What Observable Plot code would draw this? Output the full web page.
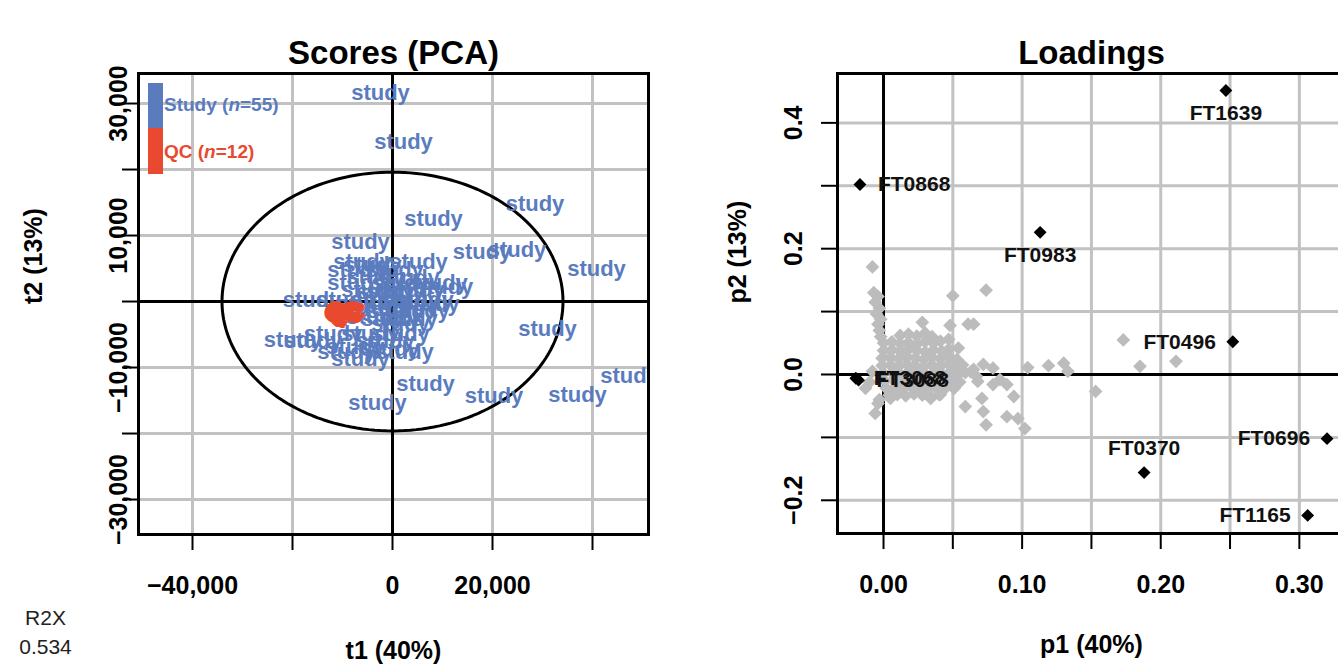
<!DOCTYPE html>
<html><head><meta charset="utf-8">
<script src="https://cdn.jsdelivr.net/npm/d3@7"></script>
<script src="https://cdn.jsdelivr.net/npm/@observablehq/plot@0.6"></script>
<style>
html,body{margin:0;padding:0;background:#fff;overflow:hidden}
#wrap{position:relative;width:1338px;height:664px;overflow:hidden;background:#fff}
#left,#right{position:absolute;top:0;height:664px}
#left{left:0;width:700px}
#right{left:700px;width:660px}
#left svg,#right svg{max-width:none !important}
svg text{font-family:"Liberation Sans",Arial,Helvetica,sans-serif}
.leg{position:absolute;font-family:"Liberation Sans",Arial,sans-serif;font-weight:bold;font-size:19px;line-height:1}
.bar{position:absolute;width:15px;height:46px}
</style></head><body>
<div id="wrap">
  <div id="left"></div>
  <div id="right"></div>
  <div class="bar" style="left:148px;top:83px;background:#5a7cbf"></div>
  <div class="bar" style="left:148px;top:128px;background:#e8492f"></div>
  <div class="leg" style="left:164px;top:95px;color:#5a7cbf">Study (<i>n</i>=55)</div>
  <div class="leg" style="left:164px;top:142px;color:#e8492f">QC (<i>n</i>=12)</div>
</div>
<script>
// ---------- Scores data ----------
const studyT1 = [-2400, 2200, 8200, 28500, -6400, 17900, 24900, 40800, 31000, 6600, 20300, 37000, -3000, 47400,
  -16100, -19900, 10300, 6400, -6000, 5200, -7200, 400, -7200, 1600, 9200, -9400, -2400, 3600, -2400, 3200,
  -400, 3200, -11900, -4400, 1600, -15900, -9200, 2400, -6400, -3400, -1400, 600, -4400, 4600, -5400, 600,
  5600, -3400, 1600, -1400, -7400, -400, 3600, -4000, 7600];
const studyT2 = [31600, 24200, 12500, 14800, 9100, 7500, 7800, 4900, -4200, -12500, -14300, -14200, -15400, -11300,
  300, -5800, 2200, 300, 6000, 6000, 4800, 4800, 2800, 2800, 2800, 300, 300, 300, -900, -900,
  -2700, -2700, -4900, -4900, -4900, -6000, -7600, -7600, -8700, 3700, 1500, 1500, 1800, 1800, -400, -1500,
  -1500, -2400, -3400, -6000, -6900, -7200, 3600, 5500, -400];
const qcT1 = [-10300, -9800, -9400, -9000, -10100, -9600, -8600, -9900, -9200, -10500, -8800, -9600];
const qcT2 = [-1500, -1800, -1300, -1900, -2100, -1600, -1500, -1200, -2200, -1800, -1800, -2100];
const hotellingT1 = 34100, hotellingT2 = 19600;
const scoreXTicks = [-40000, -20000, 0, 20000, 40000];
const scoreXLabels = ["\u221240,000", "", "0", "20,000", ""];
const scoreYTicks = [-30000, -20000, -10000, 0, 10000, 20000, 30000];
const scoreYLabels = ["\u221230,000", "", "\u221210,000", "", "10,000", "", "30,000"];
const r2xLabel = "R2X", r2xValue = "0.534";

// ---------- Loadings data ----------
const loadNames = ["FT1639", "FT0868", "FT0983", "FT0496", "FT0696", "FT0370", "FT1165", "FT3068", "FT3088"];
const loadP1 = [0.247, -0.017, 0.113, 0.252, 0.320, 0.188, 0.306, -0.020, -0.018];
const loadP2 = [0.4515, 0.302, 0.226, 0.052, -0.102, -0.156, -0.224, -0.006, -0.009];
const loadLabelSide = ["below", "right", "below", "left", "left", "above", "left", "right", "right"];
const greyLoadings = [
  [0.012,0.062],[0.018,0.064],[0.024,0.061],[0.030,0.066],[0.035,0.060],
  [0.000,0.050],[0.006,0.052],[0.012,0.049],[0.018,0.051],[0.024,0.048],[0.030,0.052],[0.036,0.050],[0.041,0.053],
  [0.000,0.038],[0.006,0.039],[0.012,0.037],[0.018,0.040],[0.024,0.038],[0.030,0.036],[0.036,0.039],[0.042,0.037],[0.047,0.040],
  [-0.001,0.026],[0.005,0.027],[0.011,0.025],[0.017,0.028],[0.023,0.026],[0.029,0.024],[0.035,0.027],[0.041,0.025],[0.047,0.028],[0.053,0.024],
  [-0.001,0.014],[0.005,0.015],[0.011,0.013],[0.017,0.016],[0.023,0.014],[0.029,0.012],[0.035,0.015],[0.041,0.013],[0.047,0.016],[0.053,0.012],[0.057,0.015],
  [0.000,0.002],[0.006,0.003],[0.012,0.001],[0.018,0.004],[0.024,0.002],[0.030,0.000],[0.036,0.003],[0.042,0.001],[0.048,0.004],[0.054,0.000],[0.059,0.003],
  [0.001,-0.010],[0.007,-0.009],[0.013,-0.011],[0.019,-0.008],[0.025,-0.010],[0.031,-0.012],[0.037,-0.009],[0.043,-0.011],[0.049,-0.008],[0.055,-0.012],
  [0.002,-0.022],[0.008,-0.021],[0.014,-0.023],[0.020,-0.020],[0.026,-0.022],[0.032,-0.024],[0.038,-0.021],[0.044,-0.023],[0.050,-0.020],
  [0.004,-0.033],[0.010,-0.032],[0.016,-0.034],[0.022,-0.031],[0.028,-0.033],[0.034,-0.035],[0.040,-0.032],
  [-0.002,0.060],[-0.003,0.070],[-0.004,0.080],[-0.002,0.088],[-0.005,0.096],[-0.003,0.105],[-0.006,0.115],[-0.004,0.124],[-0.007,0.130],[-0.008,0.171],
  [-0.003,-0.040],[-0.004,-0.046],[-0.006,-0.062],[0.005,-0.038],[-0.013,-0.022],[-0.010,-0.012],[-0.008,0.005],
  [0.074,0.134],[0.050,0.125],[0.028,0.083],[0.048,0.078],[0.061,0.080],[0.065,0.080],[0.047,0.056],[0.054,0.042],
  [0.072,0.016],[0.079,0.010],[0.104,0.011],[0.119,0.014],[0.130,0.018],[0.133,0.005],[0.153,-0.027],
  [0.063,0.004],[0.067,-0.003],[0.065,0.008],[0.068,-0.011],[0.079,-0.016],[0.084,-0.008],[0.089,-0.016],[0.094,-0.035],
  [0.071,-0.038],[0.059,-0.051],[0.072,-0.059],[0.074,-0.080],[0.089,-0.067],[0.097,-0.070],[0.102,-0.086],
  [0.041,-0.032],[0.034,-0.038],[0.051,-0.022],[0.173,0.055],[0.185,0.013],[0.211,0.021]
];
const loadXTicks = [0, 0.05, 0.10, 0.15, 0.20, 0.25, 0.30];
const loadXLabels = ["0.00", "", "0.10", "", "0.20", "", "0.30"];
const loadYTicks = [-0.2, -0.1, 0, 0.1, 0.2, 0.3, 0.4];
const loadYLabels = ["\u22120.2", "", "0.0", "", "0.2", "", "0.4"];

// ---------- styles ----------
const BLUE = "#5a7cbf", RED = "#e8492f", GRID = "#c2c2c2", GREYPT = "#bcbcbc";
const fmtFrom = (ticks, labels) => { const m = new Map(ticks.map((t, i) => [t, labels[i]])); return d => m.get(d) ?? ""; };

// ---------- Scores plot ----------
const studyIdx = d3.range(studyT1.length);
const qcIdx = d3.range(qcT1.length);
const ellipse = d3.range(0, 361, 2).map(a => ({x: hotellingT1 * Math.cos(a * Math.PI / 180), y: hotellingT2 * Math.sin(a * Math.PI / 180)}));

const left = Plot.plot({
  width: 700, height: 664,
  marginLeft: 138, marginRight: 52, marginTop: 73, marginBottom: 130,
  x: {domain: [-50800, 51200]},
  y: {domain: [-35300, 34550]},
  style: {fontFamily: "Liberation Sans, Arial, sans-serif", background: "white"},
  marks: [
    Plot.ruleX(scoreXTicks.filter(d => d !== 0), {stroke: GRID, strokeWidth: 3}),
    Plot.ruleY(scoreYTicks.filter(d => d !== 0), {stroke: GRID, strokeWidth: 3}),
    Plot.ruleX([0], {stroke: "black", strokeWidth: 3}),
    Plot.ruleY([0], {stroke: "black", strokeWidth: 3}),
    Plot.line(ellipse, {x: "x", y: "y", stroke: "black", strokeWidth: 3}),
    Plot.text(studyIdx, {x: i => studyT1[i], y: i => studyT2[i], text: () => "study", fill: BLUE, fontSize: 22, fontWeight: "bold", clip: "frame"}),
    Plot.text(qcIdx, {x: i => qcT1[i], y: i => qcT2[i], text: () => "QC", fill: RED, fontSize: 22, fontWeight: "bold"}),
    Plot.frame({stroke: "black", strokeWidth: 3}),
    Plot.axisX(scoreXTicks, {tickSize: 16, tickPadding: 26, strokeWidth: 2, tickFormat: fmtFrom(scoreXTicks, scoreXLabels), fontSize: 25, fontWeight: "bold", label: null}),
    Plot.axisY(scoreYTicks, {tickSize: 16, tickPadding: -4, tickRotate: -90, strokeWidth: 2, tickFormat: fmtFrom(scoreYTicks, scoreYLabels), fontSize: 25, fontWeight: "bold", label: null}),
    Plot.text(["Scores (PCA)"], {frameAnchor: "top", dy: -33, fontSize: 33, fontWeight: "bold", fill: "black"}),
    Plot.text(["t1 (40%)"], {frameAnchor: "bottom", dy: 124, fontSize: 25, fontWeight: "bold", fill: "black"}),
    Plot.text(["t2 (13%)"], {frameAnchor: "left", dx: -105, rotate: -90, fontSize: 25, fontWeight: "bold", fill: "black"}),
    Plot.text([r2xLabel], {frameAnchor: "bottom-left", dx: -93, dy: 90, textAnchor: "middle", fontSize: 21, fill: "#222"}),
    Plot.text([r2xValue], {frameAnchor: "bottom-left", dx: -93, dy: 119, textAnchor: "middle", fontSize: 21, fill: "#222"})
  ]
});
document.getElementById("left").appendChild(left);

// ---------- Loadings plot ----------
const loadIdx = d3.range(loadNames.length);
const side = s => loadIdx.filter(i => loadLabelSide[i] === s);
const lp = {x: i => loadP1[i], y: i => loadP2[i], text: i => loadNames[i], fontSize: 21, fontWeight: "bold", fill: "#111"};

const right = Plot.plot({
  width: 660, height: 664,
  marginLeft: 137, marginRight: 15, marginTop: 73, marginBottom: 131,
  x: {domain: [-0.0332, 0.3333]},
  y: {domain: [-0.2528, 0.4785]},
  style: {fontFamily: "Liberation Sans, Arial, sans-serif", background: "white"},
  marks: [
    Plot.ruleX(loadXTicks.filter(d => d !== 0), {stroke: GRID, strokeWidth: 3}),
    Plot.ruleY(loadYTicks.filter(d => d !== 0), {stroke: GRID, strokeWidth: 3}),
    Plot.ruleX([0], {stroke: "black", strokeWidth: 3}),
    Plot.ruleY([0], {stroke: "black", strokeWidth: 3}),
    Plot.dot(greyLoadings, {x: d => d[0], y: d => d[1], symbol: "diamond2", r: 6.2, fill: GREYPT, stroke: "none"}),
    Plot.dot(loadIdx, {x: i => loadP1[i], y: i => loadP2[i], symbol: "diamond2", r: 5.8, fill: "black", stroke: "none"}),
    Plot.text(side("below"), {...lp, dy: 23}),
    Plot.text(side("above"), {...lp, dy: -24}),
    Plot.text(side("left"), {...lp, dx: -17, textAnchor: "end"}),
    Plot.text(side("right"), {...lp, dx: 18, textAnchor: "start"}),
    Plot.frame({stroke: "black", strokeWidth: 3}),
    Plot.axisX(loadXTicks, {tickSize: 16, tickPadding: 26, strokeWidth: 2, tickFormat: fmtFrom(loadXTicks, loadXLabels), fontSize: 25, fontWeight: "bold", label: null}),
    Plot.axisY(loadYTicks, {tickSize: 16, tickPadding: 20, tickRotate: -90, strokeWidth: 2, tickFormat: fmtFrom(loadYTicks, loadYLabels), fontSize: 25, fontWeight: "bold", label: null}),
    Plot.text(["Loadings"], {frameAnchor: "top", dy: -33, fontSize: 33, fontWeight: "bold", fill: "black"}),
    Plot.text(["p1 (40%)"], {frameAnchor: "bottom", dy: 119, fontSize: 25, fontWeight: "bold", fill: "black"}),
    Plot.text(["p2 (13%)"], {frameAnchor: "left", dx: -100, rotate: -90, fontSize: 25, fontWeight: "bold", fill: "black"})
  ]
});
document.getElementById("right").appendChild(right);
</script>
</body></html>
